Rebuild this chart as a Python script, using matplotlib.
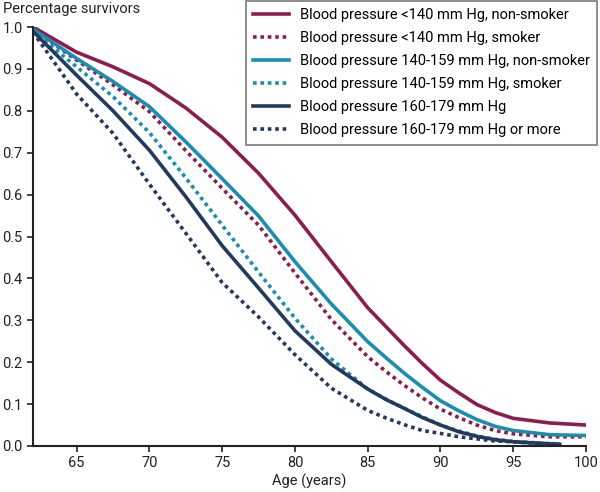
import matplotlib.pyplot as plt

# Età (anni)
ages = [62, 65, 67.5, 70, 72.5, 75, 77.5, 80, 82.5, 85, 86.25, 87.5, 88.75, 90,
        91.25, 92.5, 93.75, 95, 97.5, 100]
ages_short = ages[:-2] + [97.5, 98.2]

# Sopravvivenza stimata per ogni gruppo
bp140_nonsmoker = [1.0, 0.94, 0.905, 0.865, 0.807, 0.737, 0.651, 0.551, 0.44, 0.33,
                   0.285, 0.24, 0.197, 0.157, 0.127, 0.099, 0.08, 0.066, 0.055, 0.05]
bp140_smoker = [0.995, 0.921, 0.862, 0.798, 0.705, 0.615, 0.527, 0.413, 0.302, 0.213,
                0.178, 0.145, 0.115, 0.088, 0.068, 0.05, 0.037, 0.029, 0.022, 0.022]
bp159_nonsmoker = [0.995, 0.925, 0.87, 0.81, 0.726, 0.638, 0.549, 0.44, 0.339, 0.249,
                   0.211, 0.174, 0.14, 0.108, 0.084, 0.063, 0.047, 0.037, 0.027, 0.025]
bp159_smoker = [0.99, 0.905, 0.834, 0.748, 0.64, 0.527, 0.415, 0.305, 0.208, 0.136,
                0.112, 0.09, 0.07, 0.05, 0.036, 0.024, 0.016, 0.011, 0.006, 0.005]
bp179 = [0.99, 0.885, 0.80, 0.706, 0.595, 0.478, 0.377, 0.275, 0.195, 0.136,
         0.111, 0.09, 0.068, 0.05, 0.034, 0.023, 0.015, 0.01, 0.005, 0.004]
bp179_more = [0.988, 0.84, 0.746, 0.625, 0.508, 0.39, 0.308, 0.218, 0.138, 0.085,
              0.067, 0.051, 0.037, 0.03, 0.022, 0.017, 0.012, 0.01, 0.005, 0.004]

labels = [
    "Blood pressure <140 mm Hg, non-smoker",
    "Blood pressure <140 mm Hg, smoker",
    "Blood pressure 140-159 mm Hg, non-smoker",
    "Blood pressure 140-159 mm Hg, smoker",
    "Blood pressure 160-179 mm Hg",
    "Blood pressure 160-179 mm Hg or more",
]

maroon = "#8c1d4f"
cyan = "#1b8db0"
navy = "#233a5e"
dots = (0, (1, 1.05))

plt.rcParams['font.family'] = ['Roboto', 'DejaVu Sans']

fig = plt.figure(figsize=(6, 4.92), dpi=100)
ax = fig.add_axes([0.055, 0.0935, 0.9217, 0.8515])

lw = 2.6
ax.plot(ages, bp140_nonsmoker, color=maroon, lw=lw, label=labels[0])
ax.plot(ages, bp140_smoker, color=maroon, lw=lw, linestyle=dots, label=labels[1])
ax.plot(ages, bp159_nonsmoker, color=cyan, lw=lw, label=labels[2])
ax.plot(ages_short, bp159_smoker, color=cyan, lw=lw, linestyle=dots, label=labels[3])
ax.plot(ages_short, bp179, color=navy, lw=lw, label=labels[4])
ax.plot(ages_short, bp179_more, color=navy, lw=lw, linestyle=dots, label=labels[5])

ax.set_xlim(62, 100)
ax.set_ylim(0, 1.0)
ax.set_xticks([65, 70, 75, 80, 85, 90, 95, 100])
ax.set_yticks([0.0, 0.1, 0.2, 0.3, 0.4, 0.5, 0.6, 0.7, 0.8, 0.9, 1.0])
ax.set_yticklabels([f"{v:.1f}" for v in ax.get_yticks()])
ax.tick_params(labelsize=10.5, length=4, width=1.2, direction='out', colors='#222222')
for s in ['top', 'right']:
    ax.spines[s].set_visible(False)
for s in ['left', 'bottom']:
    ax.spines[s].set_linewidth(1.5)
    ax.spines[s].set_color('#222222')

ax.set_xlabel("Age (years)", fontsize=10.5, color='#222222', labelpad=2)
fig.text(0.005, 1 - 9 / 492, "Percentage survivors", fontsize=10.5, color='#222222', va='center', ha='left')

leg = fig.legend(loc='upper right', bbox_to_anchor=(597 / 600, 1 - 1 / 492),
                 fontsize=10.5, frameon=True, fancybox=False, handlelength=2.5,
                 handletextpad=0.7, labelspacing=0.62, borderpad=0.5,
                 borderaxespad=0, edgecolor='#666666')
leg.get_frame().set_linewidth(1.3)

fig.savefig("out.png", dpi=100)
